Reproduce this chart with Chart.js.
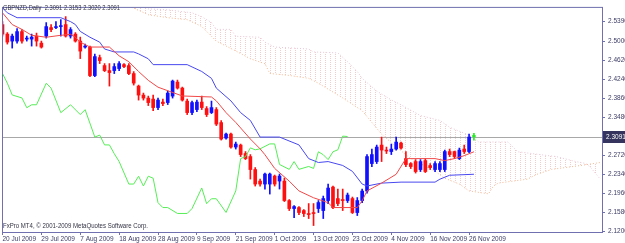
<!DOCTYPE html>
<html>
<head>
<meta charset="utf-8">
<title>GBPNZD Daily - Ichimoku</title>
<script src="https://cdn.jsdelivr.net/npm/chart.js@4.4.0/dist/chart.umd.min.js"></script>
<style>
    html, body { margin: 0; padding: 0; background: #ffffff; }
    #chart-container { position: relative; width: 625px; height: 243px; }
</style>
</head>
<body>
<div id="chart-container"><canvas id="ichimokuChart" width="625" height="243"></canvas></div>
<script>
// Date labels under the chart, one every 8 bars
var dateLabels = ["20 Jul 2009", "29 Jul 2009", "7 Aug 2009", "18 Aug 2009", "28 Aug 2009", "9 Sep 2009",
    "21 Sep 2009", "1 Oct 2009", "13 Oct 2009", "23 Oct 2009", "4 Nov 2009", "16 Nov 2009", "26 Nov 2009"];
var labelStep = 8;

// Price ticks on the right side
var priceTicks = [2.1200, 2.1580, 2.1960, 2.2340, 2.2720, 2.3100, 2.3480, 2.3860, 2.4240, 2.4620, 2.5000, 2.5390];

// Daily candles (bar 0 = 20 Jul 2009, bar 97 = 27 Nov 2009)
var opens = [2.533, 2.514, 2.500, 2.500, 2.519, 2.504, 2.504, 2.510, 2.496, 2.510,
    2.527, 2.527, 2.529, 2.533, 2.510, 2.514, 2.500, 2.488, 2.488, 2.431,
    2.467, 2.451, 2.441, 2.441, 2.445, 2.453, 2.451, 2.435, 2.410, 2.392,
    2.386, 2.384, 2.367, 2.378, 2.377, 2.390, 2.418, 2.406, 2.380, 2.357,
    2.363, 2.378, 2.365, 2.357, 2.363, 2.337, 2.306, 2.314, 2.288, 2.292,
    2.275, 2.269, 2.243, 2.220, 2.214, 2.214, 2.230, 2.220, 2.220, 2.181,
    2.165, 2.167, 2.161, 2.155, 2.157, 2.165, 2.161, 2.181, 2.208, 2.185,
    2.183, 2.181, 2.185, 2.157, 2.181, 2.200, 2.255, 2.259, 2.292, 2.282,
    2.279, 2.284, 2.296, 2.265, 2.255, 2.259, 2.243, 2.261, 2.251, 2.243,
    2.243, 2.243, 2.279, 2.279, 2.265, 2.284, 2.279, 2.3091];
var highs = [2.539, 2.517, 2.514, 2.525, 2.523, 2.510, 2.514, 2.516, 2.500, 2.537,
    2.533, 2.539, 2.543, 2.549, 2.527, 2.517, 2.508, 2.494, 2.490, 2.474,
    2.472, 2.455, 2.455, 2.455, 2.459, 2.455, 2.455, 2.439, 2.412, 2.396,
    2.390, 2.392, 2.386, 2.384, 2.400, 2.422, 2.422, 2.408, 2.384, 2.380,
    2.382, 2.390, 2.369, 2.380, 2.367, 2.341, 2.316, 2.316, 2.298, 2.294,
    2.279, 2.273, 2.247, 2.224, 2.236, 2.236, 2.232, 2.234, 2.226, 2.183,
    2.171, 2.169, 2.163, 2.175, 2.175, 2.181, 2.190, 2.214, 2.210, 2.204,
    2.204, 2.196, 2.188, 2.187, 2.204, 2.273, 2.284, 2.292, 2.308, 2.288,
    2.294, 2.308, 2.298, 2.279, 2.257, 2.263, 2.263, 2.265, 2.255, 2.259,
    2.259, 2.282, 2.284, 2.280, 2.286, 2.292, 2.314, 2.3153];
var lows = [2.510, 2.494, 2.486, 2.496, 2.496, 2.500, 2.490, 2.490, 2.486, 2.506,
    2.519, 2.525, 2.510, 2.508, 2.506, 2.498, 2.465, 2.486, 2.429, 2.429,
    2.455, 2.439, 2.410, 2.435, 2.441, 2.447, 2.433, 2.412, 2.382, 2.382,
    2.371, 2.361, 2.363, 2.371, 2.373, 2.386, 2.404, 2.380, 2.353, 2.353,
    2.359, 2.363, 2.349, 2.355, 2.331, 2.302, 2.304, 2.286, 2.284, 2.269,
    2.263, 2.224, 2.210, 2.210, 2.204, 2.194, 2.210, 2.204, 2.179, 2.161,
    2.147, 2.153, 2.149, 2.145, 2.131, 2.157, 2.145, 2.175, 2.165, 2.171,
    2.161, 2.177, 2.155, 2.151, 2.177, 2.196, 2.249, 2.255, 2.259, 2.275,
    2.273, 2.282, 2.284, 2.249, 2.245, 2.236, 2.239, 2.237, 2.243, 2.239,
    2.239, 2.239, 2.269, 2.265, 2.263, 2.275, 2.277, 2.3020];
var closes = [2.514, 2.498, 2.510, 2.519, 2.500, 2.506, 2.508, 2.500, 2.488, 2.529,
    2.523, 2.529, 2.531, 2.510, 2.523, 2.500, 2.480, 2.490, 2.431, 2.469,
    2.461, 2.441, 2.437, 2.449, 2.455, 2.449, 2.435, 2.416, 2.392, 2.386,
    2.377, 2.367, 2.382, 2.375, 2.396, 2.420, 2.406, 2.382, 2.357, 2.377,
    2.378, 2.367, 2.353, 2.367, 2.334, 2.304, 2.314, 2.288, 2.294, 2.273,
    2.265, 2.243, 2.214, 2.214, 2.234, 2.234, 2.214, 2.230, 2.181, 2.165,
    2.169, 2.157, 2.155, 2.153, 2.155, 2.177, 2.185, 2.206, 2.167, 2.175,
    2.181, 2.192, 2.157, 2.181, 2.200, 2.269, 2.273, 2.288, 2.282, 2.280,
    2.284, 2.298, 2.286, 2.253, 2.249, 2.239, 2.259, 2.239, 2.247, 2.255,
    2.255, 2.279, 2.273, 2.269, 2.282, 2.279, 2.308, 2.3091];

// Ichimoku lines as [bar, price] vertices
var tenkanPoints = [[0, 2.5566], [2, 2.5331], [4, 2.5234], [6, 2.5116], [9, 2.5077], [12, 2.5116], [14, 2.5136],
    [15, 2.5077], [16, 2.4979], [18, 2.4881], [22, 2.4881], [24, 2.4705], [26, 2.4587], [28, 2.4392], [30, 2.4215],
    [32, 2.4078], [37, 2.3902], [43, 2.3882], [44, 2.3804], [46, 2.3569], [48, 2.3373], [51, 2.3041], [53, 2.2845],
    [54, 2.2727], [56, 2.2453], [59, 2.2199], [61, 2.2003], [64, 2.1866], [67, 2.1768], [68, 2.1670], [73, 2.1670],
    [74, 2.1807], [75, 2.2003], [78, 2.2159], [81, 2.2336], [83, 2.2649], [89, 2.2649], [91, 2.2610], [93, 2.2649],
    [95, 2.2708], [97, 2.2786]];
var kijunPoints = [[0, 2.5664], [1, 2.5566], [3, 2.5468], [12, 2.5468], [14, 2.5390], [15, 2.5331], [16, 2.5194],
    [18, 2.5077], [20, 2.4979], [21, 2.4842], [23, 2.4783], [27, 2.4783], [28, 2.4744], [30, 2.4646], [31, 2.4529],
    [38, 2.4529], [41, 2.4392], [43, 2.4255], [44, 2.4059], [47, 2.3804], [49, 2.3569], [51, 2.3413], [53, 2.3080],
    [57, 2.3080], [61, 2.2923], [63, 2.2649], [65, 2.2571], [67, 2.2590], [70, 2.2512], [72, 2.2394], [74, 2.2140],
    [75, 2.2101], [78, 2.2159], [82, 2.2179], [89, 2.2179], [90, 2.2238], [92, 2.2316], [97, 2.2336]];
var chikouPoints = [[0, 2.4352], [1, 2.4157], [2, 2.3922], [4, 2.3863], [5, 2.3667], [6, 2.3726], [7, 2.3726],
    [9, 2.4157], [10, 2.4059], [12, 2.3569], [14, 2.3726], [16, 2.3530], [17, 2.3628], [19, 2.3080], [20, 2.3119],
    [21, 2.2923], [22, 2.2923], [23, 2.2747], [24, 2.2590], [26, 2.2140], [27, 2.2140], [28, 2.2297], [29, 2.2101],
    [30, 2.2297], [31, 2.2257], [32, 2.1768], [33, 2.1670], [34, 2.1670], [36, 2.1552], [38, 2.1552], [39, 2.1650],
    [41, 2.2062], [42, 2.1748], [43, 2.1846], [44, 2.1846], [46, 2.1572], [48, 2.2003], [49, 2.2649], [50, 2.2688],
    [51, 2.2864], [52, 2.2825], [53, 2.2845], [55, 2.2943], [56, 2.2943], [57, 2.2532], [59, 2.2434], [60, 2.2590],
    [61, 2.2434], [63, 2.2492], [64, 2.2453], [65, 2.2786], [66, 2.2727], [67, 2.2629], [68, 2.2786], [69, 2.2825],
    [70, 2.3099], [71, 2.3091]];
var senkouAPoints = [[26, 2.5703], [30, 2.5527], [34, 2.5468], [38, 2.5429], [41, 2.5292], [44, 2.4999], [48, 2.4803],
    [51, 2.4646], [54, 2.4548], [55, 2.4352], [59, 2.4313], [63, 2.4255], [65, 2.4157], [70, 2.3863], [74, 2.3608],
    [76, 2.3373], [78, 2.3138], [81, 2.2884], [84, 2.2649], [89, 2.2394], [91, 2.2257], [94, 2.2140], [96, 2.2003],
    [100, 2.1944], [101, 2.2101], [102, 2.2159], [108, 2.2238], [110, 2.2336], [113, 2.2434], [119, 2.2512], [123, 2.2571]];
var senkouBPoints = [[26, 2.5821], [30, 2.5645], [34, 2.5625], [39, 2.5566], [41, 2.5488], [43, 2.5371], [44, 2.5234],
    [47, 2.5234], [48, 2.5096], [53, 2.5077], [54, 2.4979], [56, 2.4881], [63, 2.4842], [64, 2.4783], [69, 2.4764],
    [71, 2.4587], [73, 2.4392], [74, 2.4255], [77, 2.4000], [80, 2.3824], [82, 2.3726], [86, 2.3510], [90, 2.3413],
    [92, 2.3276], [96, 2.3119], [98, 2.2982], [104, 2.2982], [106, 2.2786], [114, 2.2688], [118, 2.2590], [120, 2.2551],
    [121, 2.2473], [122, 2.2355], [123, 2.2238]];

var headerText = "GBPNZD,Daily  2.3091 2.3153 2.3020 2.3091";
var footerText = "FxPro MT4, \u00A9 2001-2009 MetaQuotes Software Corp.";

// Colours
var frameColor = "#7070b0";
var labelColor = "#3c3c66";
var bullColor = "#1010ff";
var bearColor = "#ff1010";
var dojiColor = "#22ee22";
var fontFamily = "'Liberation Sans', Arial, sans-serif";

var canvas = document.getElementById("ichimokuChart");
var ctx = canvas.getContext("2d");

// Function to turn [bar, price] pairs into chart points
function toPoints(pairs) {
    return pairs.map(function (p) {
        return { x: p[0], y: p[1] };
    });
}

// Function to pick the candle colour like MT4 does
function candleColor(i) {
    if (closes[i] > opens[i]) return bullColor;
    if (closes[i] < opens[i]) return bearColor;
    return dojiColor;
}

// Function to build a pattern of vertical dotted lines for the cloud
function makeCloudPattern(color) {
    var tile = document.createElement("canvas");
    tile.width = 5;
    tile.height = 2;
    var t = tile.getContext("2d");
    t.fillStyle = color;
    t.fillRect(0, 0, 1, 1);
    return ctx.createPattern(tile, "repeat");
}

var wickData = lows.map(function (low, i) {
    return { x: i, y: [low, highs[i]] };
});
var bodyData = opens.map(function (open, i) {
    return { x: i, y: [open, closes[i]] };
});
var candleColors = opens.map(function (o, i) {
    return candleColor(i);
});
var lastClose = closes[closes.length - 1];

// Plugin drawing the MT4 frame, bid line, texts and the price box
var mt4Decorations = {
    id: "mt4Decorations",
    beforeDatasetsDraw: function (chart) {
        var c = chart.ctx;
        var area = chart.chartArea;
        var y = Math.round(chart.scales.y.getPixelForValue(lastClose)) + 0.5;
        c.save();
        c.strokeStyle = "#a8a8a8";
        c.lineWidth = 1;
        c.beginPath();
        c.moveTo(area.left, y);
        c.lineTo(area.right, y);
        c.stroke();
        c.restore();
    },
    afterDraw: function (chart) {
        var c = chart.ctx;
        var area = chart.chartArea;
        c.save();
        c.strokeStyle = frameColor;
        c.lineWidth = 1;
        c.strokeRect(area.left + 0.5, area.top + 0.5, area.right - area.left, area.bottom - area.top);

        c.fillStyle = "#333344";
        c.font = "7px " + fontFamily;
        c.textBaseline = "middle";
        c.textAlign = "left";
        c.fillText(headerText, 3, 8, 117);
        c.fillText(footerText, 3, 226, 145);

        // Current price box on the right scale
        var y = Math.round(chart.scales.y.getPixelForValue(lastClose));
        c.fillStyle = "#34345e";
        c.fillRect(area.right + 1, y - 6, 625 - area.right - 1, 12);
        c.fillStyle = "#ffffff";
        c.font = "6.5px " + fontFamily;
        c.fillText(lastClose.toFixed(4), area.right + 4, y + 0.5);
        c.restore();
    }
};

new Chart(ctx, {
    type: "line",
    data: {
        datasets: [
            {
                label: "Tenkan-sen",
                data: toPoints(tenkanPoints),
                borderColor: "#f04848",
                borderWidth: 1,
                pointRadius: 0,
                fill: false,
                order: 0
            },
            {
                label: "Kijun-sen",
                data: toPoints(kijunPoints),
                borderColor: "#4848f0",
                borderWidth: 1,
                pointRadius: 0,
                fill: false,
                order: 0
            },
            {
                label: "Chikou Span",
                data: toPoints(chikouPoints),
                borderColor: "#55ee55",
                borderWidth: 1,
                pointRadius: 0,
                fill: false,
                order: 0
            },
            {
                type: "bar",
                label: "Bodies",
                data: bodyData,
                backgroundColor: candleColors,
                barThickness: 3,
                minBarLength: 1,
                grouped: false,
                borderWidth: 0,
                order: 1
            },
            {
                type: "bar",
                label: "Wicks",
                data: wickData,
                backgroundColor: candleColors,
                barThickness: 1,
                grouped: false,
                borderWidth: 0,
                order: 2
            },
            {
                label: "Senkou Span A",
                data: toPoints(senkouAPoints),
                borderColor: "#f4b890",
                borderWidth: 1,
                borderDash: [1, 2],
                pointRadius: 0,
                fill: false,
                order: 5
            },
            {
                label: "Senkou Span B",
                data: toPoints(senkouBPoints),
                borderColor: "#e8c6d6",
                borderWidth: 1,
                borderDash: [1, 2],
                backgroundColor: makeCloudPattern("#f0cccc"),
                pointRadius: 0,
                fill: "-1",
                order: 6
            }
        ]
    },
    options: {
        responsive: false,
        animation: false,
        devicePixelRatio: 1,
        layout: { padding: { left: 2, top: 2, right: 0, bottom: 0 } },
        plugins: {
            legend: { display: false },
            tooltip: { enabled: false }
        },
        scales: {
            x: {
                type: "linear",
                min: -0.1,
                max: 123.35,
                offset: false,
                border: { display: false },
                grid: { offset: false, drawOnChartArea: false, drawTicks: true, tickLength: 3, color: frameColor },
                afterBuildTicks: function (scale) {
                    scale.ticks = dateLabels.map(function (d, k) {
                        return { value: k * labelStep };
                    });
                },
                afterFit: function (scale) {
                    scale.height = 11;
                },
                ticks: {
                    autoSkip: false,
                    maxRotation: 0,
                    align: "start",
                    padding: 0,
                    color: labelColor,
                    font: { family: fontFamily, size: 6.5 },
                    callback: function (value) {
                        return dateLabels[Math.round(value / labelStep)];
                    }
                }
            },
            y: {
                type: "linear",
                position: "right",
                min: 2.1181,
                max: 2.5684,
                beginAtZero: false,
                border: { display: false },
                grid: { drawOnChartArea: false, drawTicks: true, tickLength: 3, color: frameColor },
                afterBuildTicks: function (scale) {
                    scale.ticks = priceTicks.map(function (v) {
                        return { value: v };
                    });
                },
                afterFit: function (scale) {
                    scale.width = 23;
                },
                ticks: {
                    padding: 3,
                    color: labelColor,
                    font: { family: fontFamily, size: 6.5 },
                    callback: function (value) {
                        return value.toFixed(4);
                    }
                }
            }
        }
    },
    plugins: [mt4Decorations]
});
</script>
</body>
</html>
